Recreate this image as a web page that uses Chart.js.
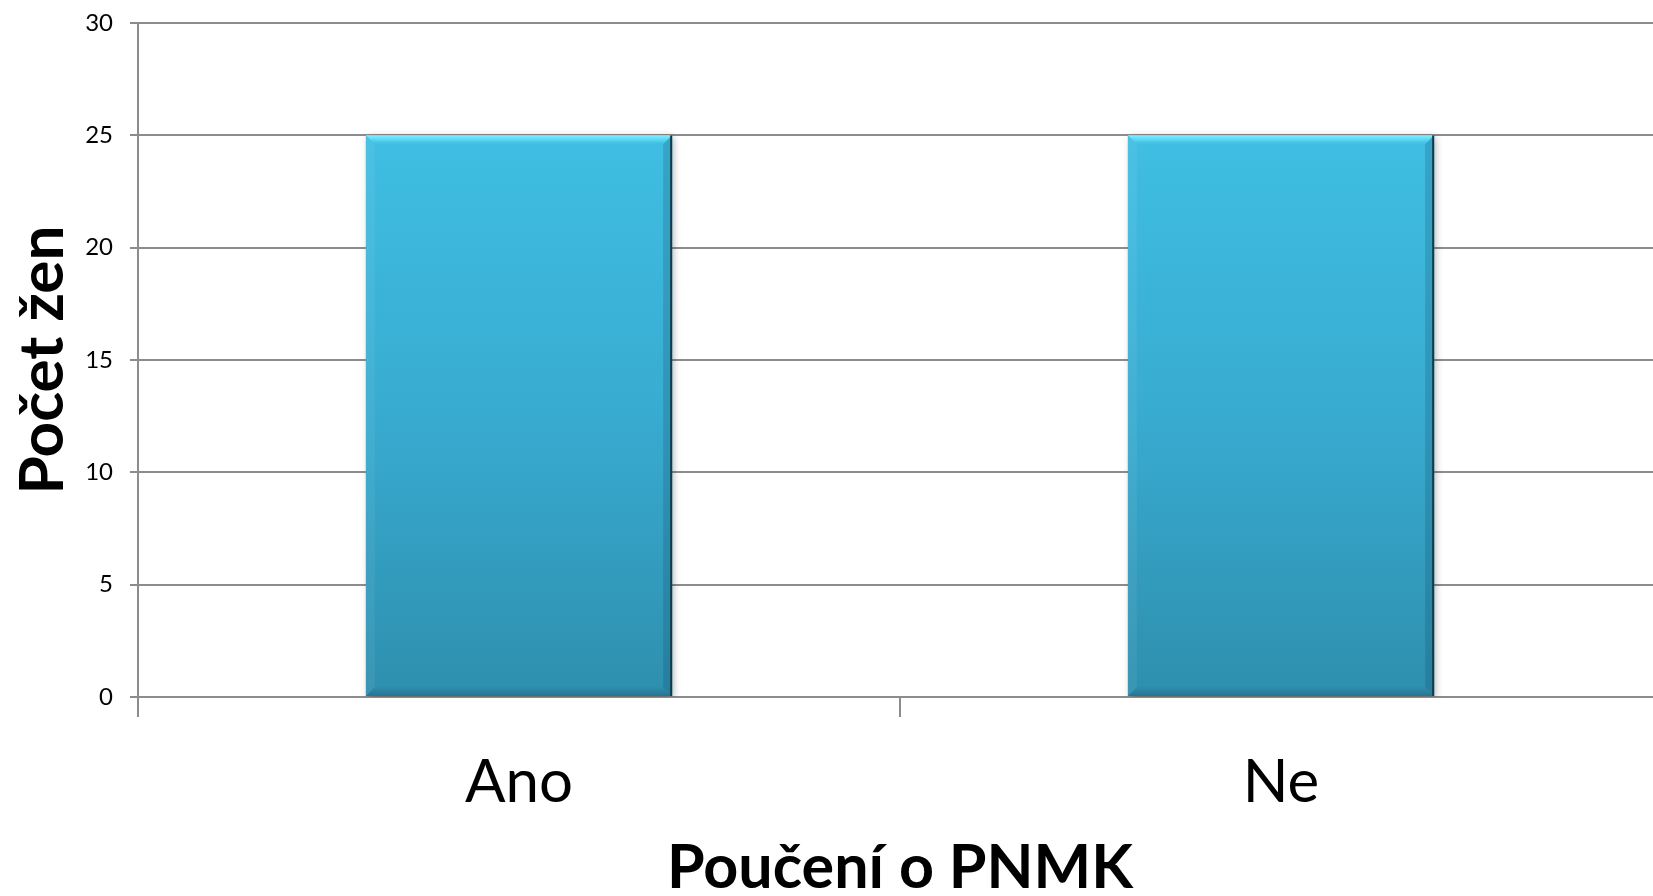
<!DOCTYPE html>
<html lang="cs">
<head>
<meta charset="utf-8">
<title>Poučení o PNMK</title>
<script src="https://cdn.jsdelivr.net/npm/chart.js@4/dist/chart.umd.min.js"></script>
<style>
  html, body { margin: 0; padding: 0; background: #ffffff; overflow: hidden; }
  #wrap { width: 1662px; height: 896px; }
  canvas { display: block; }
</style>
</head>
<body>
<div id="wrap"><canvas id="chart" width="1662" height="896"></canvas></div>
<script>
// Answers to "Poučení o PNMK" and number of women for each
const categories = ['Ano', 'Ne'];
const counts = [25, 25];

// Value axis range and step
const yMin = 0;
const yMax = 30;
const yStep = 5;

const axisTitleX = 'Poučení o PNMK';
const axisTitleY = 'Počet žen';

const FONT = 'Lato, "Open Sans", "Noto Sans", sans-serif';
const GRID = '#8c8c8c';

// Vertical gradient for each bar, from its top value down to the baseline
function barFill(context) {
  const chart = context.chart;
  const y = chart.scales && chart.scales.y;
  if (!chart.chartArea || !y) return '#3ab3d8';
  const top = y.getPixelForValue(context.raw);
  const bottom = y.getPixelForValue(0);
  const g = chart.ctx.createLinearGradient(0, top, 0, bottom);
  g.addColorStop(0, '#40bee3');
  g.addColorStop(0.5, '#38abd0');
  g.addColorStop(1, '#2e8fae');
  return g;
}

// Soft drop shadow behind the bars
const barShadow = {
  id: 'barShadow',
  beforeDatasetsDraw(chart) {
    const ctx = chart.ctx;
    ctx.save();
    ctx.shadowColor = 'rgba(0,0,0,0.30)';
    ctx.shadowBlur = 7;
    ctx.shadowOffsetX = 2;
    ctx.shadowOffsetY = 2;
  },
  afterDatasetsDraw(chart) {
    chart.ctx.restore();
  }
};

// Bevelled edges drawn over each bar element
const barBevel = {
  id: 'barBevel',
  afterDatasetsDraw(chart) {
    const ctx = chart.ctx;
    const b = 9;
    chart.getDatasetMeta(0).data.forEach(bar => {
      const { x, y, base, width } = bar.getProps(['x', 'y', 'base', 'width'], true);
      const l = x - width / 2, r = x + width / 2, t = y, bt = base;
      ctx.save();
      // top highlight
      let g = ctx.createLinearGradient(0, t, 0, t + b);
      g.addColorStop(0, 'rgba(130,240,255,1)');
      g.addColorStop(0.5, 'rgba(100,225,248,0.7)');
      g.addColorStop(1, 'rgba(70,200,235,0.1)');
      ctx.fillStyle = g;
      ctx.beginPath();
      ctx.moveTo(l, t); ctx.lineTo(r, t); ctx.lineTo(r - b, t + b); ctx.lineTo(l + b, t + b);
      ctx.closePath(); ctx.fill();
      // bottom shade
      g = ctx.createLinearGradient(0, bt - b, 0, bt);
      g.addColorStop(0, 'rgba(30,95,120,0.05)');
      g.addColorStop(1, 'rgba(30,85,105,0.45)');
      ctx.fillStyle = g;
      ctx.beginPath();
      ctx.moveTo(l, bt); ctx.lineTo(r, bt); ctx.lineTo(r - b, bt - b); ctx.lineTo(l + b, bt - b);
      ctx.closePath(); ctx.fill();
      // left light edge
      ctx.fillStyle = 'rgba(255,255,255,0.06)';
      ctx.beginPath();
      ctx.moveTo(l, t); ctx.lineTo(l + b, t + b); ctx.lineTo(l + b, bt - b); ctx.lineTo(l, bt);
      ctx.closePath(); ctx.fill();
      // right dark edge
      ctx.fillStyle = 'rgba(10,50,70,0.18)';
      ctx.beginPath();
      ctx.moveTo(r, t); ctx.lineTo(r - b, t + b); ctx.lineTo(r - b, bt - b); ctx.lineTo(r, bt);
      ctx.closePath(); ctx.fill();
      ctx.fillStyle = '#143a4a';
      ctx.fillRect(r - 2, t, 2, bt - t);
      ctx.restore();
    });
  }
};

new Chart(document.getElementById('chart'), {
  type: 'bar',
  data: {
    labels: categories,
    datasets: [{
      data: counts,
      backgroundColor: barFill,
      borderWidth: 0,
      barPercentage: 0.402,
      categoryPercentage: 1
    }]
  },
  options: {
    responsive: false,
    animation: false,
    devicePixelRatio: 1,
    layout: { padding: { top: 23, right: 0, bottom: 0, left: 0 } },
    plugins: {
      legend: { display: false },
      tooltip: { enabled: false }
    },
    scales: {
      x: {
        offset: true,
        grid: {
          offset: true,
          drawOnChartArea: false,
          drawTicks: true,
          tickLength: 20,
          color: GRID,
          lineWidth: 2
        },
        border: { display: true, color: GRID, width: 2 },
        ticks: {
          color: '#000000',
          font: { family: FONT, size: 60 },
          padding: 30
        },
        title: {
          display: true,
          text: axisTitleX,
          color: '#000000',
          font: { family: FONT, size: 61, weight: 'bold', lineHeight: 1 },
          padding: { top: 0, bottom: -3 }
        },
        afterFit(scale) { scale.height = 199; }
      },
      y: {
        min: yMin,
        max: yMax,
        grid: {
          color: GRID,
          lineWidth: 2,
          tickLength: 8,
          drawTicks: true
        },
        border: { display: true, color: GRID, width: 2 },
        ticks: {
          stepSize: yStep,
          color: '#000000',
          font: { family: FONT, size: 24 },
          padding: 17
        },
        title: {
          display: true,
          text: axisTitleY,
          color: '#000000',
          font: { family: FONT, size: 62, weight: 'bold', lineHeight: 1 },
          padding: { top: 12, bottom: 0 }
        },
        afterFit(scale) {
          scale.width = 138;
          scale.paddingTop = 0;
          scale.paddingBottom = 0;
        }
      }
    }
  },
  plugins: [barShadow, barBevel]
});
</script>
</body>
</html>
